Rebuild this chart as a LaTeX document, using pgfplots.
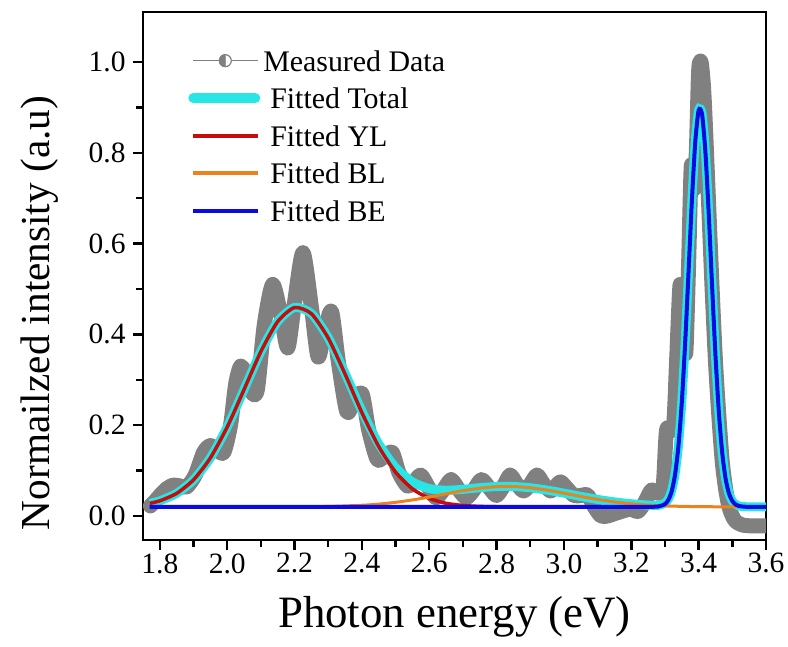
\documentclass[border=0pt]{standalone}
\usepackage{pgfplots}
\pgfplotsset{compat=1.18}
\usepackage{fontspec}
\setmainfont{Liberation Serif}
\usetikzlibrary{calc}
\definecolor{dgray}{RGB}{128,128,128}
\definecolor{fitcyan}{RGB}{40,230,230}
\definecolor{fitred}{RGB}{200,12,12}
\definecolor{fitorange}{RGB}{235,130,30}
\definecolor{fitblue}{RGB}{10,10,225}
\begin{document}
\begin{tikzpicture}
\begin{axis}[
  scale only axis, width=311.5bp, height=264bp,
  xmin=1.75, xmax=3.6, ymin=-0.053, ymax=1.11,
  axis line style={line width=1.2bp},
  xtick={1.8,2.0,2.2,2.4,2.6,2.8,3.0,3.2,3.4,3.6},
  minor xtick={1.9,2.1,2.3,2.5,2.7,2.9,3.1,3.3,3.5},
  ytick={0,0.2,0.4,0.6,0.8,1.0},
  minor ytick={0.1,0.3,0.5,0.7,0.9},
  tick pos=left, tick align=outside,
  major tick length=5bp, minor tick length=3.5bp,
  every tick/.style={line width=1.2bp, black},
  /pgf/number format/.cd, fixed, fixed zerofill, precision=1, assume math mode=true,
  /pgfplots/.cd,
  x tick label style={font=\fontsize{14.8}{16}\selectfont, inner sep=1.5bp},
  y tick label style={font=\fontsize{14.8}{16}\selectfont, inner sep=3.5bp},
  xlabel={Photon energy (eV)},
  ylabel={Normailzed intensity (a.u)},
  xlabel style={at={(axis description cs:0.5,-0.145)}, anchor=center, font=\fontsize{22.5}{24}\selectfont},
  ylabel style={at={(axis description cs:-0.1653,0.43)}, anchor=center, font=\fontsize{20.7}{22}\selectfont},
  legend style={draw=none, fill=none, at={(axis description cs:0.0625,0.936)}, anchor=north west,
    font=\fontsize{15}{15}\selectfont, row sep=8.25bp, column sep=0bp,
    nodes={inner sep=0bp, text height=10.5bp, text depth=0bp}},
  legend cell align=left,
  legend image code/.code={\draw[#1] (0bp,0bp) -- (32.5bp,0bp);},
]
\addlegendimage{legend image code/.code={
  \draw[dgray, line width=0.75bp] (0bp,0bp) -- (32.5bp,0bp);
  \draw[dgray, fill=white, line width=0.6bp] (16bp,0bp) circle (3bp);
  \fill[dgray] (16bp,3bp) arc (90:270:3bp) -- cycle;}}
\addlegendentry{\hspace{1.5bp}Measured Data}
\addlegendimage{legend image code/.code={
  \draw[fitcyan, line width=5bp, line cap=round] (0bp,0bp) -- (31bp,0bp);}}
\addlegendentry{\hspace{5bp}Fitted Total}
\addlegendimage{fitred, line width=2bp}
\addlegendentry{\hspace{5bp}Fitted YL}
\addlegendimage{fitorange, line width=2bp}
\addlegendentry{\hspace{5bp}Fitted BL}
\addlegendimage{fitblue, line width=2bp}
\addlegendentry{\hspace{5bp}Fitted BE}

% Measured data
\addplot[dgray, line width=7.5bp, line join=round, line cap=round, smooth, tension=0.45, forget plot] coordinates {
(1.772,0.022) (1.785,0.032) (1.80,0.045) (1.82,0.060) (1.84,0.068) (1.86,0.066) (1.88,0.064)
(1.905,0.09) (1.93,0.14) (1.95,0.155) (1.97,0.145) (1.99,0.14) (2.01,0.20) (2.025,0.29)
(2.04,0.33) (2.057,0.31) (2.075,0.27) (2.09,0.28) (2.11,0.42) (2.135,0.51) (2.16,0.44)
(2.18,0.37) (2.20,0.47) (2.225,0.58) (2.25,0.46) (2.27,0.35) (2.29,0.41) (2.31,0.45)
(2.33,0.34) (2.355,0.23) (2.375,0.25) (2.40,0.27) (2.42,0.19) (2.445,0.125) (2.465,0.13)
(2.49,0.14) (2.51,0.095) (2.535,0.066) (2.555,0.075) (2.575,0.09) (2.60,0.06) (2.62,0.04)
(2.64,0.055) (2.665,0.08) (2.69,0.055) (2.71,0.04) (2.73,0.055) (2.755,0.08) (2.78,0.06)
(2.80,0.045) (2.82,0.065) (2.84,0.09) (2.86,0.07) (2.88,0.055) (2.90,0.07) (2.92,0.09)
(2.94,0.07) (2.96,0.055) (2.975,0.065) (2.99,0.075) (3.01,0.06) (3.03,0.045) (3.05,0.045)
(3.07,0.046) (3.09,0.02) (3.11,0.0) (3.13,0.0) (3.15,0.005) (3.18,0.012) (3.20,0.015)
(3.22,0.01) (3.24,0.03) (3.26,0.057) (3.28,0.05) (3.295,0.07) (3.305,0.19) (3.325,0.195)
(3.335,0.35) (3.345,0.51) (3.355,0.42) (3.362,0.36) (3.37,0.55) (3.378,0.77) (3.386,0.72)
(3.393,0.80) (3.40,0.98) (3.407,1.0) (3.414,0.95) (3.42,0.86) (3.43,0.68) (3.44,0.50)
(3.45,0.34) (3.46,0.22) (3.47,0.12) (3.48,0.06) (3.49,0.02) (3.50,0.0) (3.51,-0.012)
(3.53,-0.02) (3.56,-0.022) (3.60,-0.022)
};

% Fitted total
\addplot[fitcyan, line width=4.5bp, smooth, tension=0.4, forget plot] coordinates {
(1.77,0.0278) (1.80,0.0333) (1.85,0.0497) (1.90,0.0795) (1.95,0.1278) (2.00,0.1957)
(2.05,0.2783) (2.10,0.3621) (2.15,0.4283) (2.20,0.4593) (2.25,0.4459) (2.30,0.3927)
(2.35,0.3144) (2.40,0.2311) (2.45,0.1588) (2.50,0.1065) (2.55,0.0749) (2.60,0.0602)
(2.65,0.0565) (2.70,0.0586) (2.75,0.0622) (2.80,0.0647) (2.85,0.0649) (2.90,0.0620)
(2.95,0.0569) (3.00,0.0502) (3.05,0.0430) (3.10,0.0364) (3.15,0.0309) (3.20,0.0268)
(3.25,0.0239) (3.28,0.0235) (3.30,0.0282) (3.31,0.0371) (3.32,0.0562) (3.33,0.0928)
(3.34,0.1555) (3.35,0.2518) (3.36,0.3828) (3.37,0.5385) (3.38,0.6963) (3.39,0.8249)
(3.40,0.8941) (3.41,0.8860) (3.42,0.8027) (3.43,0.6655) (3.44,0.5056) (3.45,0.3533)
(3.46,0.2287) (3.47,0.1392) (3.48,0.0821) (3.49,0.0496) (3.50,0.0328) (3.51,0.0251)
(3.52,0.0218) (3.54,0.0202) (3.57,0.0200) (3.60,0.0200)
};

% Fitted YL
\addplot[fitred, line width=1.75bp, smooth, tension=0.4, forget plot] coordinates {
(1.77,0.0278) (1.80,0.0333) (1.85,0.0497) (1.90,0.0795) (1.95,0.1278) (2.00,0.1957)
(2.05,0.2783) (2.10,0.3621) (2.15,0.4282) (2.20,0.4591) (2.25,0.4455) (2.30,0.3918)
(2.35,0.3126) (2.40,0.2276) (2.45,0.1527) (2.50,0.0965) (2.55,0.0597) (2.60,0.0386)
(2.65,0.0278) (2.70,0.0230) (2.75,0.0210) (2.80,0.0203)
};

% Fitted BL
\addplot[fitorange, line width=1.5bp, smooth, tension=0.4, forget plot] coordinates {
(2.20,0.0202) (2.30,0.0209) (2.40,0.0235) (2.45,0.0261) (2.50,0.0300) (2.55,0.0352)
(2.60,0.0416) (2.65,0.0487) (2.70,0.0556) (2.75,0.0612) (2.80,0.0644) (2.85,0.0648)
(2.90,0.0620) (2.95,0.0569) (3.00,0.0502) (3.05,0.0430) (3.10,0.0364) (3.15,0.0309)
(3.20,0.0268) (3.25,0.0239) (3.30,0.0221) (3.35,0.0211) (3.40,0.0205) (3.45,0.0202)
(3.52,0.0200)
};

% Fitted BE
\addplot[fitblue, line width=2bp, smooth, tension=0.4, forget plot] coordinates {
(1.77,0.02) (2.50,0.02) (3.20,0.02) (3.25,0.0200) (3.28,0.0208) (3.30,0.0261) (3.31,0.0352)
(3.32,0.0545) (3.33,0.0913) (3.34,0.1542) (3.35,0.2507) (3.36,0.3818) (3.37,0.5376)
(3.38,0.6955) (3.39,0.8242) (3.40,0.8936) (3.41,0.8856) (3.42,0.8024) (3.43,0.6652)
(3.44,0.5054) (3.45,0.3531) (3.46,0.2285) (3.47,0.1391) (3.48,0.0820) (3.49,0.0495)
(3.50,0.0328) (3.51,0.0251) (3.52,0.0218) (3.54,0.0202) (3.57,0.0200) (3.60,0.0200)
};
\end{axis}
\pgfresetboundingbox
\path[use as bounding box] ($(current axis.south west)+(-71.5bp,-53.5bp)$) rectangle ($(current axis.north east)+(11bp,6bp)$);
\end{tikzpicture}
\end{document}
